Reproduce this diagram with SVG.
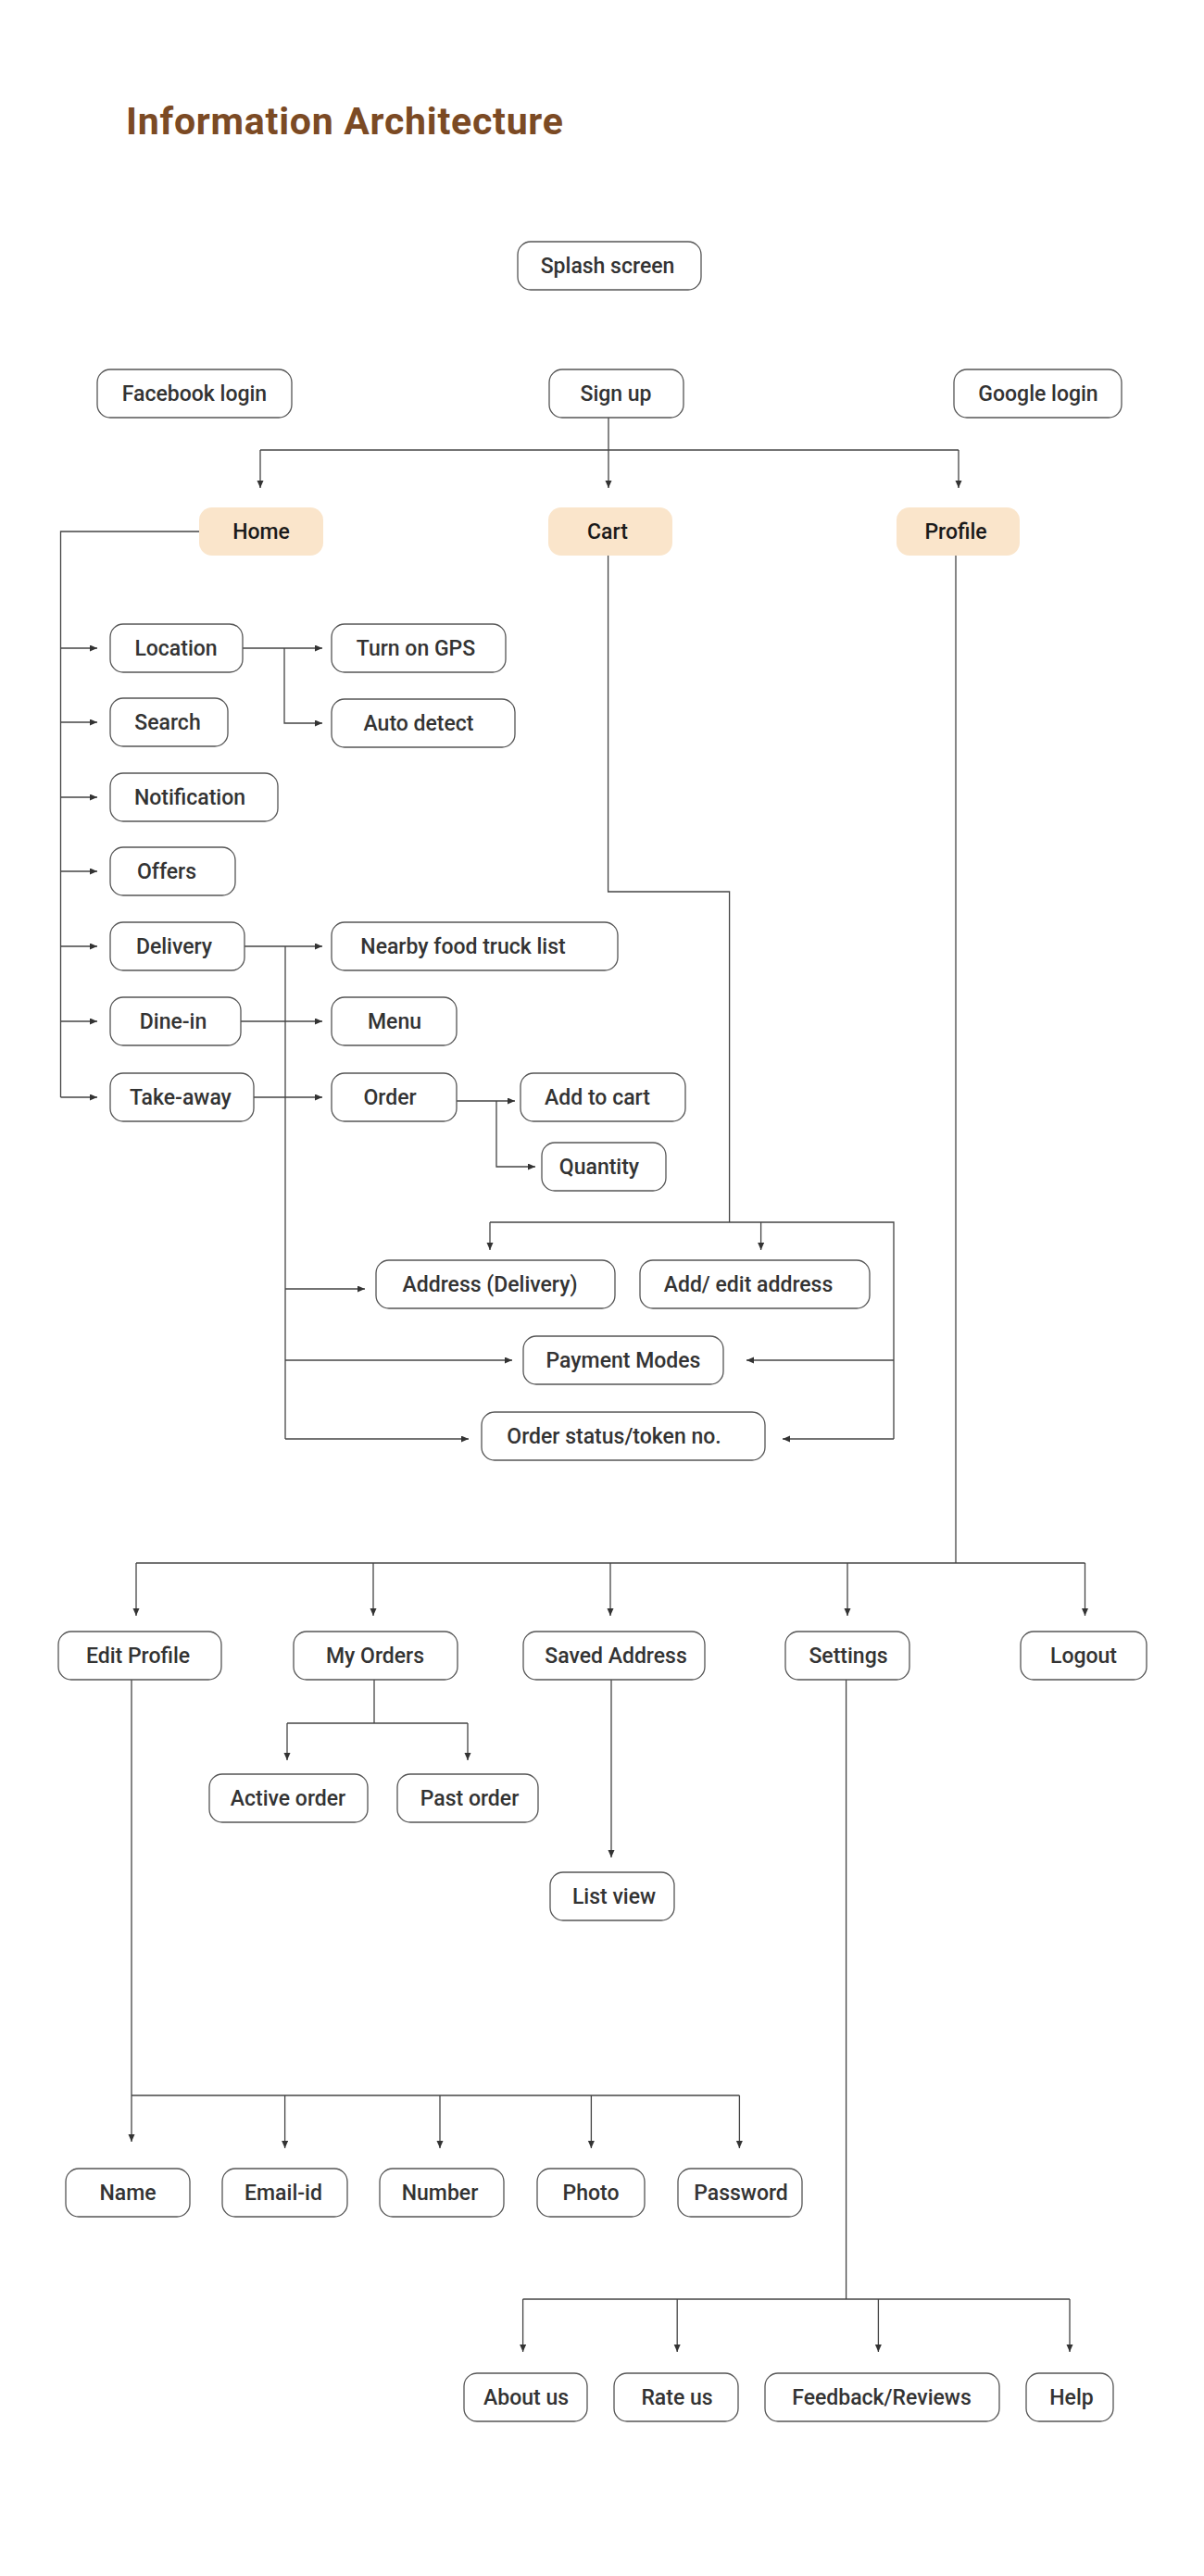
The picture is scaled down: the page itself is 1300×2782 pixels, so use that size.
<svg xmlns="http://www.w3.org/2000/svg" width="1300" height="2782" viewBox="0 0 1300 2782">
<defs>
<marker id="ah" markerUnits="userSpaceOnUse" markerWidth="9" markerHeight="8" refX="8" refY="3.5" orient="auto">
<path d="M0,0 L8,3.5 L0,7 z" fill="#333"/>
</marker>
<style>
.n rect{fill:#fff;stroke:#555;stroke-width:1.3}
.m rect{fill:#FAE5CB;stroke:none}
.n text,.m text{font-family:Roboto,"Liberation Sans",sans-serif;font-size:23px;font-weight:500;text-anchor:middle;fill:#333}
.m text{fill:#1a1a1a}
.c path{fill:none;stroke:#444;stroke-width:1.3}
.c path.a{marker-end:url(#ah)}
.title{font-family:Roboto,"Liberation Sans",sans-serif;font-size:41px;font-weight:700;letter-spacing:0.75px;fill:#7B4A24}
</style>
</defs>
<rect width="1300" height="2782" fill="#fff"/>
<text class="title" x="136" y="145">Information Architecture</text>

<g class="c" id="connectors">
<path d="M657,451 V527" class="a"/>
<path d="M281,486 H1035"/>
<path d="M281,486 V527" class="a"/>
<path d="M1035,486 V527" class="a"/>
<path d="M215,574 H65.5 V1185"/>
<path d="M65.5,700 H105" class="a"/>
<path d="M65.5,780 H105" class="a"/>
<path d="M65.5,861 H105" class="a"/>
<path d="M65.5,941 H105" class="a"/>
<path d="M65.5,1022 H105" class="a"/>
<path d="M65.5,1103 H105" class="a"/>
<path d="M65.5,1185 H105" class="a"/>
<path d="M262,700 H348" class="a"/>
<path d="M307,700 V781 H348" class="a"/>
<path d="M264,1022 H348" class="a"/>
<path d="M308,1022 V1554"/>
<path d="M308,1392 H394" class="a"/>
<path d="M308,1469 H553" class="a"/>
<path d="M308,1554 H506" class="a"/>
<path d="M260,1103 H348" class="a"/>
<path d="M274,1185 H348" class="a"/>
<path d="M493,1189 H556" class="a"/>
<path d="M536,1189 V1260 H578" class="a"/>
<path d="M656.6,599 V963 H787.6 V1320"/>
<path d="M529,1320 H965 V1554"/>
<path d="M529,1320 V1350" class="a"/>
<path d="M821.6,1320 V1350" class="a"/>
<path d="M965,1469 H806" class="a"/>
<path d="M965,1554 H845" class="a"/>
<path d="M1032,599 V1688"/>
<path d="M147,1688 H1171.5"/>
<path d="M147,1688 V1745" class="a"/>
<path d="M403,1688 V1745" class="a"/>
<path d="M659,1688 V1745" class="a"/>
<path d="M915,1688 V1745" class="a"/>
<path d="M1171.5,1688 V1745" class="a"/>
<path d="M404,1814 V1861"/>
<path d="M310,1861 H505"/>
<path d="M310,1861 V1901" class="a"/>
<path d="M505,1861 V1901" class="a"/>
<path d="M660,1814 V2006" class="a"/>
<path d="M142,1814 V2313" class="a"/>
<path d="M142,2263 H798.4"/>
<path d="M307.6,2263 V2320" class="a"/>
<path d="M475,2263 V2320" class="a"/>
<path d="M638.4,2263 V2320" class="a"/>
<path d="M798.4,2263 V2320" class="a"/>
<path d="M913.6,1814 V2483"/>
<path d="M564.6,2483 H1155"/>
<path d="M564.6,2483 V2540" class="a"/>
<path d="M731.2,2483 V2540" class="a"/>
<path d="M948.4,2483 V2540" class="a"/>
<path d="M1155,2483 V2540" class="a"/>
</g>

<g class="n" id="splash"><rect x="559" y="261" width="198" height="52" rx="14"/><text x="656" y="295">Splash screen</text></g>
<g class="n" id="facebook"><rect x="105" y="399" width="210" height="52" rx="14"/><text x="210" y="433">Facebook login</text></g>
<g class="n" id="signup"><rect x="593" y="399" width="145" height="52" rx="14"/><text x="665" y="433">Sign up</text></g>
<g class="n" id="google"><rect x="1030" y="399" width="181" height="52" rx="14"/><text x="1121" y="433">Google login</text></g>
<g class="m" id="home"><rect x="215" y="548" width="134" height="52" rx="14"/><text x="282" y="582">Home</text></g>
<g class="m" id="cart"><rect x="592" y="548" width="134" height="52" rx="14"/><text x="656" y="582">Cart</text></g>
<g class="m" id="profile"><rect x="968" y="548" width="133" height="52" rx="14"/><text x="1032" y="582">Profile</text></g>
<g class="n" id="location"><rect x="119" y="674" width="143" height="52" rx="14"/><text x="190" y="708">Location</text></g>
<g class="n" id="turnongps"><rect x="358" y="674" width="188" height="52" rx="14"/><text x="449" y="708">Turn on GPS</text></g>
<g class="n" id="search"><rect x="119" y="754" width="127" height="52" rx="14"/><text x="181" y="788">Search</text></g>
<g class="n" id="autodetect"><rect x="358" y="755" width="198" height="52" rx="14"/><text x="452" y="789">Auto detect</text></g>
<g class="n" id="notification"><rect x="119" y="835" width="181" height="52" rx="14"/><text x="205" y="869">Notification</text></g>
<g class="n" id="offers"><rect x="119" y="915" width="135" height="52" rx="14"/><text x="180" y="949">Offers</text></g>
<g class="n" id="delivery"><rect x="119" y="996" width="145" height="52" rx="14"/><text x="188" y="1030">Delivery</text></g>
<g class="n" id="nearby"><rect x="358" y="996" width="309" height="52" rx="14"/><text x="500" y="1030">Nearby food truck list</text></g>
<g class="n" id="dinein"><rect x="119" y="1077" width="141" height="52" rx="14"/><text x="187" y="1111">Dine-in</text></g>
<g class="n" id="menu"><rect x="358" y="1077" width="135" height="52" rx="14"/><text x="426" y="1111">Menu</text></g>
<g class="n" id="takeaway"><rect x="119" y="1159" width="155" height="52" rx="14"/><text x="195" y="1193">Take-away</text></g>
<g class="n" id="order"><rect x="358" y="1159" width="135" height="52" rx="14"/><text x="421" y="1193">Order</text></g>
<g class="n" id="addtocart"><rect x="562" y="1159" width="178" height="52" rx="14"/><text x="645" y="1193">Add to cart</text></g>
<g class="n" id="quantity"><rect x="585" y="1234" width="134" height="52" rx="14"/><text x="647" y="1268">Quantity</text></g>
<g class="n" id="addressdelivery"><rect x="406" y="1361" width="258" height="52" rx="14"/><text x="529" y="1395">Address (Delivery)</text></g>
<g class="n" id="addeditaddress"><rect x="691" y="1361" width="248" height="52" rx="14"/><text x="808" y="1395">Add/ edit address</text></g>
<g class="n" id="paymentmodes"><rect x="565" y="1443" width="216" height="52" rx="14"/><text x="673" y="1477">Payment Modes</text></g>
<g class="n" id="orderstatus"><rect x="520" y="1525" width="306" height="52" rx="14"/><text x="663" y="1559">Order status/token no.</text></g>
<g class="n" id="editprofile"><rect x="63" y="1762" width="176" height="52" rx="14"/><text x="149" y="1796">Edit Profile</text></g>
<g class="n" id="myorders"><rect x="317" y="1762" width="177" height="52" rx="14"/><text x="405" y="1796">My Orders</text></g>
<g class="n" id="savedaddress"><rect x="565" y="1762" width="196" height="52" rx="14"/><text x="665" y="1796">Saved Address</text></g>
<g class="n" id="settings"><rect x="848" y="1762" width="134" height="52" rx="14"/><text x="916" y="1796">Settings</text></g>
<g class="n" id="logout"><rect x="1102" y="1762" width="136" height="52" rx="14"/><text x="1170" y="1796">Logout</text></g>
<g class="n" id="activeorder"><rect x="226" y="1916" width="171" height="52" rx="14"/><text x="311" y="1950">Active order</text></g>
<g class="n" id="pastorder"><rect x="429" y="1916" width="152" height="52" rx="14"/><text x="507" y="1950">Past order</text></g>
<g class="n" id="listview"><rect x="594" y="2022" width="134" height="52" rx="14"/><text x="663" y="2056">List view</text></g>
<g class="n" id="name"><rect x="71" y="2342" width="134" height="52" rx="14"/><text x="138" y="2376">Name</text></g>
<g class="n" id="emailid"><rect x="240" y="2342" width="135" height="52" rx="14"/><text x="306" y="2376">Email-id</text></g>
<g class="n" id="number"><rect x="410" y="2342" width="134" height="52" rx="14"/><text x="475" y="2376">Number</text></g>
<g class="n" id="photo"><rect x="580" y="2342" width="116" height="52" rx="14"/><text x="638" y="2376">Photo</text></g>
<g class="n" id="password"><rect x="732" y="2342" width="134" height="52" rx="14"/><text x="800" y="2376">Password</text></g>
<g class="n" id="aboutus"><rect x="501" y="2563" width="133" height="52" rx="14"/><text x="568" y="2597">About us</text></g>
<g class="n" id="rateus"><rect x="663" y="2563" width="134" height="52" rx="14"/><text x="731" y="2597">Rate us</text></g>
<g class="n" id="feedback"><rect x="826" y="2563" width="253" height="52" rx="14"/><text x="952" y="2597">Feedback/Reviews</text></g>
<g class="n" id="help"><rect x="1108" y="2563" width="94" height="52" rx="14"/><text x="1157" y="2597">Help</text></g>
</svg>
